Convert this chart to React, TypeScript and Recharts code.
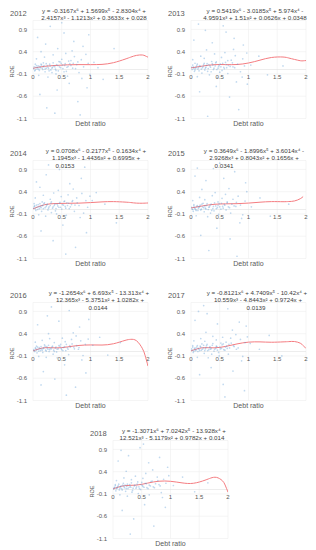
import React from 'react';
import { ComposedChart, Scatter, Line, XAxis, YAxis, CartesianGrid, ReferenceLine } from 'recharts';

// axis ticks
const debtTicks = [0, 0.5, 1, 1.5, 2];
const roeTicks = [-1.1, -0.6, -0.1, 0.4, 0.9];

// trend lines at these debt ratios
const trendX = [0, 0.2, 0.4, 0.6, 0.8, 1.0, 1.2, 1.4, 1.6, 1.7, 1.8, 1.9, 1.95, 2.0];
const trend2012 = [0.028, 0.071, 0.091, 0.105, 0.11, 0.109, 0.115, 0.153, 0.232, 0.278, 0.317, 0.326, 0.307, 0.277];
const trend2013 = [0.035, 0.077, 0.108, 0.11, 0.112, 0.146, 0.21, 0.27, 0.28, 0.258, 0.226, 0.197, 0.195, 0.201];
const trend2014 = [0.015, 0.107, 0.134, 0.139, 0.143, 0.155, 0.171, 0.177, 0.166, 0.156, 0.143, 0.141, 0.143, 0.146];
const trend2015 = [0.034, 0.081, 0.116, 0.127, 0.131, 0.144, 0.164, 0.177, 0.175, 0.179, 0.192, 0.242, 0.29, null];
const trend2016 = [0.014, 0.085, 0.08, 0.103, 0.136, 0.147, 0.145, 0.174, 0.249, 0.273, 0.241, 0.073, -0.09, -0.327];
const trend2017 = [0.014, 0.084, 0.082, 0.114, 0.17, 0.21, 0.216, 0.208, 0.216, 0.222, 0.224, 0.187, 0.135, 0.068];
const trend2018 = [0.014, 0.085, 0.098, 0.143, 0.186, 0.184, 0.149, 0.14, 0.209, 0.257, 0.272, 0.2, 0.1, -0.061];

// trendline labels
const eq2012 = ['y = -0.3167x⁶ + 1.5699x⁵ - 2.8304x⁴ +', '2.4157x³ - 1.1213x² + 0.3633x + 0.028'];
const eq2013 = ['y = 0.5419x⁶ - 3.0185x⁵ + 5.974x⁴ -', '4.9591x³ + 1.51x² + 0.0626x + 0.0348'];
const eq2014 = ['y = 0.0708x⁶ - 0.2177x⁵ - 0.1634x⁴ +', '1.1945x³ - 1.4436x² + 0.6995x +', '0.0153'];
const eq2015 = ['y = 0.3649x⁶ - 1.8996x⁵ + 3.6014x⁴ -', '2.9268x³ + 0.8043x² + 0.1656x +', '0.0341'];
const eq2016 = ['y = -1.2654x⁶ + 6.693x⁵ - 13.313x⁴ +', '12.365x³ - 5.3751x² + 1.0282x +', '0.0144'];
const eq2017 = ['y = -0.8121x⁶ + 4.7409x⁵ - 10.42x⁴ +', '10.559x³ - 4.8443x² + 0.9724x +', '0.0139'];
const eq2018 = ['y = -1.3071x⁶ + 7.0242x⁵ - 13.928x⁴ +', '12.521x³ - 5.1179x² + 0.9782x + 0.014'];

// firm observations [debt ratio, ROE] (a sample of the cloud)
const firms2012: [number, number][] = [
  [0.01, 0.02], [0.03, -0.03], [0.05, 0.05], [0.07, 0.01], [0.09, 0.08], [0.11, -0.02], [0.13, 0.04], [0.15, 0.1],
  [0.17, 0.0], [0.19, 0.06], [0.21, -0.05], [0.23, 0.03], [0.25, 0.09], [0.27, 0.02], [0.29, 0.12], [0.31, -0.01],
  [0.34, 0.05], [0.36, 0.08], [0.39, 0.01], [0.41, 0.11], [0.44, -0.03], [0.46, 0.06], [0.49, 0.14], [0.52, 0.02],
  [0.55, 0.09], [0.58, -0.04], [0.61, 0.07], [0.64, 0.13], [0.04, 0.12], [0.18, 0.15], [0.33, -0.07], [0.47, 0.17],
  [0.06, 0.24], [0.1, -0.13], [0.2, 0.28], [0.26, -0.17], [0.35, 0.33], [0.4, -0.1], [0.5, 0.23], [0.57, 0.36],
  [0.6, -0.15], [0.66, 0.2], [0.69, 0.03], [0.72, 0.29], [0.76, 0.11], [0.8, -0.07], [0.84, 0.22], [0.88, 0.06],
  [0.92, 0.34], [0.96, 0.14], [0.99, -0.11], [0.68, 0.42], [0.14, 0.4], [0.43, 0.47], [0.85, -0.2],
  [0.08, 0.72], [0.22, 0.57], [0.3, 0.97], [0.42, -0.46], [0.54, 0.82], [0.63, -0.31], [0.71, 0.63], [0.78, -0.72],
  [0.87, 0.52], [0.94, -0.41], [0.24, -0.86], [0.5, 1.05], [0.82, -1.02], [0.12, -0.56], [0.97, 0.78], [0.38, -0.98],
  [1.06, 0.16], [1.22, -0.22], [1.41, 0.47], [1.13, 0.04],
];
const core2012: [number, number][] = [
  [0.02, 0.06], [0.04, -0.01], [0.06, 0.09], [0.08, 0.04], [0.1, 0.01], [0.12, 0.07], [0.14, 0.12], [0.16, 0.03],
  [0.19, 0.09], [0.21, 0.01], [0.23, 0.13], [0.26, 0.05], [0.28, -0.03], [0.3, 0.08], [0.33, 0.03], [0.35, 0.15],
  [0.38, 0.06], [0.4, -0.02], [0.43, 0.09], [0.45, 0.18], [0.48, 0.04], [0.51, 0.1], [0.54, -0.05], [0.56, 0.13],
  [0.59, 0.05], [0.62, 0.19], [0.66, 0.09], [0.7, 0.14], [0.74, 0.02], [0.78, 0.17],
];
const firms2013: [number, number][] = [
  [0.02, 0.0], [0.04, 0.06], [0.06, -0.04], [0.08, 0.03], [0.1, 0.09], [0.12, 0.01], [0.14, -0.03], [0.16, 0.07],
  [0.2, 0.04], [0.22, 0.11], [0.24, -0.01], [0.26, 0.05], [0.28, 0.13], [0.3, 0.02], [0.33, 0.08], [0.35, -0.05],
  [0.38, 0.1], [0.4, 0.03], [0.43, 0.15], [0.45, 0.0], [0.48, 0.07], [0.51, 0.12], [0.54, -0.02], [0.57, 0.05],
  [0.6, 0.16], [0.62, 0.04], [0.65, 0.09], [0.07, 0.14], [0.19, -0.08], [0.36, 0.18], [0.5, -0.06],
  [0.03, 0.22], [0.11, -0.16], [0.17, 0.3], [0.23, 0.25], [0.32, -0.12], [0.41, 0.35], [0.46, -0.18], [0.53, 0.27],
  [0.59, 0.38], [0.64, -0.09], [0.7, 0.21], [0.73, 0.06], [0.77, 0.31], [0.81, 0.12], [0.86, -0.05], [0.9, 0.24],
  [0.93, 0.08], [0.97, 0.37], [0.74, 0.45], [0.27, 0.44], [0.89, -0.17],
  [0.05, 0.66], [0.15, -0.5], [0.25, 0.88], [0.37, 0.6], [0.44, -0.38], [0.56, 0.98], [0.67, -0.62], [0.75, 0.7],
  [0.83, -0.9], [0.91, 0.55], [0.98, -0.33], [0.29, -1.05], [0.61, 0.84], [0.13, 1.02], [0.79, -0.28],
  [1.04, 0.1], [1.18, 0.3], [1.33, -0.12], [1.6, 0.08],
];
const core2013: [number, number][] = [
  [0.01, 0.05], [0.03, 0.1], [0.05, 0.02], [0.07, -0.01], [0.09, 0.06], [0.11, 0.12], [0.13, 0.04], [0.15, 0.09],
  [0.18, 0.01], [0.21, 0.07], [0.23, 0.14], [0.25, 0.03], [0.27, 0.09], [0.29, -0.04], [0.31, 0.11], [0.34, 0.05],
  [0.37, 0.13], [0.39, 0.0], [0.42, 0.08], [0.44, 0.17], [0.47, 0.03], [0.49, 0.1], [0.52, 0.06], [0.55, 0.14],
  [0.58, 0.02], [0.61, 0.11], [0.64, 0.2], [0.68, 0.07], [0.72, 0.15], [0.76, 0.04],
];
const firms2014: [number, number][] = [
  [0.01, 0.03], [0.03, 0.08], [0.05, -0.02], [0.07, 0.05], [0.09, 0.11], [0.11, 0.02], [0.13, 0.07], [0.15, -0.04],
  [0.17, 0.09], [0.19, 0.13], [0.21, 0.04], [0.24, 0.1], [0.26, -0.01], [0.28, 0.06], [0.31, 0.14], [0.34, 0.03],
  [0.37, 0.09], [0.39, -0.03], [0.42, 0.12], [0.45, 0.05], [0.47, 0.16], [0.5, 0.01], [0.53, 0.1], [0.56, 0.07],
  [0.59, 0.15], [0.63, 0.02], [0.67, 0.11], [0.02, 0.13], [0.16, 0.17], [0.32, -0.07], [0.55, 0.19],
  [0.04, 0.26], [0.1, -0.12], [0.18, 0.32], [0.22, -0.15], [0.3, 0.23], [0.36, 0.37], [0.41, -0.1], [0.49, 0.29],
  [0.58, -0.13], [0.61, 0.33], [0.68, 0.18], [0.72, -0.04], [0.76, 0.26], [0.8, 0.09], [0.85, 0.36], [0.88, -0.08],
  [0.92, 0.2], [0.95, 0.05], [0.99, 0.3], [0.7, 0.46], [0.44, 0.43], [0.82, -0.18],
  [0.06, 0.62], [0.14, -0.48], [0.23, 0.78], [0.35, -0.7], [0.46, 0.9], [0.52, -0.35], [0.64, 0.58], [0.74, -0.85],
  [0.84, 0.7], [0.93, -0.52], [0.27, 1.0], [0.57, -1.0], [0.9, 0.95], [0.12, 0.5],
  [1.03, 0.2], [1.25, 0.12], [1.45, -0.3], [1.1, 0.38],
];
const core2014: [number, number][] = [
  [0.02, 0.07], [0.04, 0.02], [0.06, 0.1], [0.08, 0.0], [0.1, 0.06], [0.12, 0.13], [0.14, 0.04], [0.16, 0.09],
  [0.18, 0.02], [0.2, 0.15], [0.23, 0.07], [0.25, 0.12], [0.27, 0.03], [0.3, 0.09], [0.32, 0.17], [0.35, 0.06],
  [0.38, 0.12], [0.4, 0.02], [0.43, 0.08], [0.46, 0.14], [0.48, 0.05], [0.51, 0.11], [0.54, 0.18], [0.57, 0.03],
  [0.6, 0.09], [0.62, 0.14], [0.65, 0.06], [0.69, 0.2], [0.73, 0.1], [0.77, 0.15],
];
const firms2015: [number, number][] = [
  [0.02, 0.01], [0.04, -0.04], [0.06, 0.04], [0.08, 0.0], [0.1, 0.07], [0.12, -0.02], [0.14, 0.05], [0.16, 0.1],
  [0.18, 0.01], [0.2, 0.06], [0.23, -0.05], [0.25, 0.03], [0.27, 0.09], [0.3, 0.0], [0.32, 0.06], [0.35, 0.12],
  [0.38, 0.02], [0.4, -0.03], [0.43, 0.08], [0.46, 0.04], [0.49, 0.13], [0.52, 0.01], [0.55, 0.07], [0.58, 0.11],
  [0.61, -0.01], [0.65, 0.06], [0.05, 0.11], [0.21, 0.14], [0.34, -0.08], [0.47, 0.17],
  [0.03, 0.2], [0.09, -0.14], [0.15, 0.27], [0.24, 0.22], [0.29, -0.16], [0.37, 0.31], [0.42, 0.38], [0.48, -0.11],
  [0.54, 0.25], [0.6, 0.34], [0.63, 0.15], [0.69, -0.08], [0.73, 0.23], [0.78, 0.07], [0.82, 0.3], [0.86, 0.1],
  [0.9, -0.12], [0.94, 0.19], [0.97, 0.4], [0.66, 0.47], [0.19, 0.45], [0.88, -0.2],
  [0.07, 0.75], [0.17, -0.58], [0.26, 0.65], [0.39, 0.92], [0.45, -0.42], [0.57, 0.7], [0.68, -0.66], [0.76, 0.85],
  [0.85, -0.3], [0.95, 0.6], [0.31, -0.92], [0.5, 1.04], [0.8, -1.05], [0.11, 0.93],
  [1.05, 0.06], [1.2, 0.26], [1.38, -0.15], [1.7, 0.12],
];
const core2015: [number, number][] = [
  [0.01, 0.05], [0.03, 0.0], [0.05, 0.08], [0.07, 0.02], [0.09, -0.02], [0.11, 0.09], [0.13, 0.03], [0.15, 0.07],
  [0.17, -0.01], [0.19, 0.12], [0.22, 0.04], [0.24, 0.08], [0.26, 0.01], [0.28, 0.13], [0.31, 0.05], [0.33, 0.09],
  [0.36, -0.02], [0.39, 0.07], [0.41, 0.15], [0.44, 0.02], [0.47, 0.09], [0.5, 0.06], [0.53, 0.14], [0.56, 0.03],
  [0.59, 0.1], [0.63, 0.17], [0.67, 0.04], [0.71, 0.12], [0.75, 0.08], [0.79, 0.16],
];
const firms2016: [number, number][] = [
  [0.01, 0.04], [0.03, 0.0], [0.05, 0.07], [0.07, -0.03], [0.09, 0.05], [0.11, 0.09], [0.13, 0.02], [0.15, 0.06],
  [0.17, -0.02], [0.19, 0.08], [0.22, 0.03], [0.24, 0.11], [0.26, 0.05], [0.28, 0.0], [0.3, 0.07], [0.33, 0.1],
  [0.36, 0.03], [0.39, 0.08], [0.41, -0.01], [0.44, 0.06], [0.47, 0.12], [0.5, 0.04], [0.53, 0.09], [0.57, 0.02],
  [0.6, 0.08], [0.64, 0.13], [0.06, 0.12], [0.2, 0.15], [0.35, -0.06], [0.48, 0.16],
  [0.04, 0.21], [0.1, -0.11], [0.16, 0.25], [0.23, -0.13], [0.29, 0.29], [0.37, 0.2], [0.42, -0.14], [0.51, 0.3],
  [0.56, 0.22], [0.62, -0.07], [0.67, 0.27], [0.71, 0.1], [0.75, 0.35], [0.79, 0.05], [0.83, 0.24], [0.87, -0.09],
  [0.91, 0.16], [0.96, 0.28], [0.7, 0.42], [0.27, 0.4], [0.85, -0.19],
  [0.08, 0.6], [0.18, -0.45], [0.25, 0.8], [0.38, -0.62], [0.45, 0.68], [0.55, -0.3], [0.63, 0.92], [0.74, -0.8],
  [0.81, 0.55], [0.92, -0.48], [0.32, 1.0], [0.58, -0.98], [0.97, 0.72], [0.14, -0.75],
  [1.04, 0.14], [1.16, 0.32], [1.3, -0.08], [1.52, 0.2],
];
const core2016: [number, number][] = [
  [0.02, 0.02], [0.04, 0.08], [0.06, 0.03], [0.08, 0.1], [0.1, 0.01], [0.12, 0.06], [0.14, 0.11], [0.16, 0.03],
  [0.18, 0.07], [0.21, 0.12], [0.23, 0.01], [0.25, 0.08], [0.27, 0.14], [0.29, 0.04], [0.32, 0.06], [0.34, 0.12],
  [0.37, 0.0], [0.4, 0.1], [0.42, 0.05], [0.45, 0.13], [0.49, 0.07], [0.52, 0.02], [0.55, 0.11], [0.58, 0.16],
  [0.61, 0.05], [0.65, 0.1], [0.68, 0.17], [0.72, 0.06], [0.76, 0.13], [0.8, 0.09],
];
const firms2017: [number, number][] = [
  [0.02, 0.03], [0.04, -0.02], [0.06, 0.06], [0.08, 0.02], [0.1, 0.1], [0.12, 0.0], [0.14, 0.05], [0.16, 0.12],
  [0.18, 0.03], [0.21, 0.08], [0.23, -0.04], [0.25, 0.06], [0.27, 0.13], [0.29, 0.02], [0.32, 0.09], [0.34, 0.05],
  [0.37, 0.14], [0.4, 0.01], [0.43, 0.07], [0.45, 0.11], [0.48, -0.02], [0.51, 0.06], [0.54, 0.15], [0.57, 0.04],
  [0.6, 0.1], [0.63, 0.07], [0.66, 0.16], [0.03, 0.13], [0.19, 0.17], [0.36, -0.06], [0.52, 0.19],
  [0.05, 0.24], [0.11, -0.13], [0.17, 0.29], [0.24, 0.23], [0.3, -0.14], [0.38, 0.34], [0.44, 0.26], [0.49, -0.1],
  [0.55, 0.32], [0.61, 0.21], [0.65, -0.06], [0.69, 0.3], [0.74, 0.13], [0.78, 0.38], [0.82, 0.08], [0.86, 0.27],
  [0.9, -0.11], [0.94, 0.2], [0.98, 0.33], [0.72, 0.48], [0.26, 0.43], [0.88, -0.21],
  [0.07, 0.7], [0.15, -0.52], [0.28, 0.85], [0.35, -0.36], [0.46, 0.62], [0.56, -0.74], [0.64, 0.96], [0.73, -0.44],
  [0.84, 0.66], [0.93, -0.88], [0.22, 1.03], [0.59, -1.02], [0.96, 0.57], [0.13, 0.9],
  [1.03, 0.18], [1.19, 0.05], [1.36, 0.36], [1.58, -0.1],
];
const core2017: [number, number][] = [
  [0.01, 0.06], [0.03, 0.1], [0.05, 0.01], [0.07, 0.08], [0.09, 0.04], [0.11, 0.13], [0.13, 0.07], [0.15, 0.02],
  [0.17, 0.1], [0.2, 0.05], [0.22, 0.14], [0.24, 0.02], [0.26, 0.09], [0.28, 0.16], [0.31, 0.04], [0.33, 0.11],
  [0.35, 0.07], [0.38, 0.18], [0.41, 0.05], [0.44, 0.12], [0.46, 0.03], [0.5, 0.1], [0.53, 0.07], [0.56, 0.17],
  [0.59, 0.03], [0.62, 0.12], [0.67, 0.08], [0.7, 0.19], [0.75, 0.11], [0.79, 0.05],
];
const firms2018: [number, number][] = [
  [0.01, 0.01], [0.03, 0.05], [0.05, -0.03], [0.07, 0.03], [0.09, 0.08], [0.11, -0.01], [0.13, 0.06], [0.15, 0.02],
  [0.17, 0.1], [0.2, 0.04], [0.22, -0.04], [0.24, 0.07], [0.26, 0.02], [0.29, 0.11], [0.31, 0.05], [0.34, -0.02],
  [0.37, 0.08], [0.4, 0.03], [0.42, 0.12], [0.45, 0.06], [0.48, 0.0], [0.51, 0.09], [0.54, 0.05], [0.58, 0.13],
  [0.61, 0.02], [0.65, 0.08], [0.04, 0.11], [0.18, 0.14], [0.33, -0.06], [0.5, 0.16],
  [0.06, 0.2], [0.12, -0.12], [0.19, 0.26], [0.25, -0.15], [0.32, 0.22], [0.39, 0.3], [0.44, -0.09], [0.52, 0.25],
  [0.57, 0.36], [0.63, -0.12], [0.68, 0.19], [0.72, 0.04], [0.77, 0.28], [0.8, 0.11], [0.84, -0.07], [0.88, 0.23],
  [0.92, 0.14], [0.97, 0.31], [0.69, 0.44], [0.23, 0.41], [0.86, -0.18],
  [0.09, 0.64], [0.16, -0.47], [0.27, 0.76], [0.36, -0.66], [0.47, 0.94], [0.55, -0.34], [0.62, 0.6], [0.71, -0.82],
  [0.81, 0.72], [0.91, -0.4], [0.3, -1.0], [0.53, 1.02], [0.95, 0.5], [0.14, 0.88],
  [1.05, 0.09], [1.21, 0.28], [1.42, -0.05], [1.65, 0.15],
];
const core2018: [number, number][] = [
  [0.02, 0.04], [0.04, 0.09], [0.06, 0.02], [0.08, 0.06], [0.1, 0.12], [0.12, 0.03], [0.14, 0.08], [0.16, -0.01],
  [0.19, 0.07], [0.21, 0.1], [0.23, 0.02], [0.25, 0.12], [0.28, 0.05], [0.3, 0.08], [0.32, 0.15], [0.35, 0.03],
  [0.38, 0.1], [0.41, 0.06], [0.43, 0.17], [0.46, 0.02], [0.49, 0.11], [0.52, 0.07], [0.56, 0.14], [0.59, 0.04],
  [0.63, 0.1], [0.66, 0.18], [0.7, 0.06], [0.74, 0.13], [0.78, 0.2], [0.82, 0.08],
];

const FONT = '"Liberation Sans", Arial, sans-serif';
const PANEL_W = 158;
const PANEL_H = 130;
const PLOT_LEFT = 33;
const PLOT_W = 115;
const PLOT_TOP = 20.5;
const PLOT_H = 98;

const toPoints = (pairs: [number, number][]) => pairs.map(([x, y]) => ({ x, y }));
const toTrend = (ys: (number | null)[]) => trendX.map((x, i) => ({ x, y: ys[i] }));

const XTick = (props: any) => (
  <text
    x={props.x}
    y={PLOT_TOP + PLOT_H / 2 + 9.5}
    textAnchor="middle"
    fontSize={6}
    fill="#595959"
    fontFamily={FONT}
  >
    {props.payload.value}
  </text>
);

interface PanelProps {
  year: string;
  eq: string[];
  eqX: number[];
  firms: [number, number][];
  trend: (number | null)[];
  left: number;
  top: number;
}

const Panel: React.FC<PanelProps> = ({ year, eq, eqX, firms, trend, left, top }) => (
  <div style={{ position: 'absolute', left, top, width: PANEL_W, height: PANEL_H }}>
    <ComposedChart
      width={PANEL_W}
      height={PANEL_H}
      margin={{ top: PLOT_TOP, right: PANEL_W - PLOT_LEFT - PLOT_W, bottom: PANEL_H - PLOT_TOP - PLOT_H - 1, left: 5 }}
    >
      <CartesianGrid stroke="#efefef" strokeWidth={0.6} />
      <XAxis
        type="number"
        dataKey="x"
        domain={[0, 2]}
        ticks={debtTicks}
        interval={0}
        allowDataOverflow
        axisLine={false}
        tickLine={false}
        height={1}
        tick={<XTick />}
      />
      <YAxis
        type="number"
        dataKey="y"
        domain={[-1.1, 1.1]}
        ticks={roeTicks}
        interval={0}
        allowDataOverflow
        axisLine={false}
        tickLine={false}
        width={28}
        tickSize={0}
        tickMargin={6}
        tick={{ fontSize: 6, fill: '#595959', fontFamily: FONT }}
      />
      <ReferenceLine y={0} stroke="#e0e0e0" strokeWidth={0.6} />
      <Scatter
        data={toPoints(firms)}
        isAnimationActive={false}
        shape={(p: any) => <circle cx={p.cx} cy={p.cy} r={0.85} fill="#5b9bd5" fillOpacity={0.38} />}
      />
      <Line
        data={toTrend(trend)}
        dataKey="y"
        type="natural"
        stroke="#f47c80"
        strokeWidth={1}
        dot={false}
        isAnimationActive={false}
      />
    </ComposedChart>
    <svg
      width={PANEL_W}
      height={PANEL_H}
      style={{ position: 'absolute', left: 0, top: 0, pointerEvents: 'none' }}
      fontFamily={FONT}
    >
      <text x={10} y={15.8} fontSize={7.5} fill="#595959">{year}</text>
      {eq.map((line, i) => (
        <text key={i} x={eqX[i]} y={12.7 + i * 7.5} textAnchor="middle" fontSize={6.2} fill="#404040">
          {line}
        </text>
      ))}
      <text
        transform={`translate(14, ${PLOT_TOP + PLOT_H / 2 + 2}) rotate(-90)`}
        textAnchor="middle"
        fontSize={5.5}
        fill="#595959"
      >
        ROE
      </text>
      <text x={PLOT_LEFT + PLOT_W / 2} y={125.5} textAnchor="middle" fontSize={7} fill="#595959">
        Debt ratio
      </text>
    </svg>
  </div>
);

export default function App() {
  return (
    <div style={{ position: 'absolute', left: 0, top: 0, width: 316, height: 550, background: '#fff' }}>
      <Panel year="2012" eq={eq2012} eqX={[94, 94]} firms={[...firms2012, ...core2012]} trend={trend2012} left={0} top={0} />
      <Panel year="2013" eq={eq2013} eqX={[97, 97]} firms={[...firms2013, ...core2013]} trend={trend2013} left={158} top={0} />
      <Panel year="2014" eq={eq2014} eqX={[96, 96, 65]} firms={[...firms2014, ...core2014]} trend={trend2014} left={0} top={140} />
      <Panel year="2015" eq={eq2015} eqX={[96, 96, 66]} firms={[...firms2015, ...core2015]} trend={trend2015} left={158} top={140} />
      <Panel year="2016" eq={eq2016} eqX={[99, 100, 98]} firms={[...firms2016, ...core2016]} trend={trend2016} left={0} top={282} />
      <Panel year="2017" eq={eq2017} eqX={[99, 100, 98]} firms={[...firms2017, ...core2017]} trend={trend2017} left={158} top={282} />
      <Panel year="2018" eq={eq2018} eqX={[94, 92]} firms={[...firms2018, ...core2018]} trend={trend2018} left={80} top={420} />
    </div>
  );
}
